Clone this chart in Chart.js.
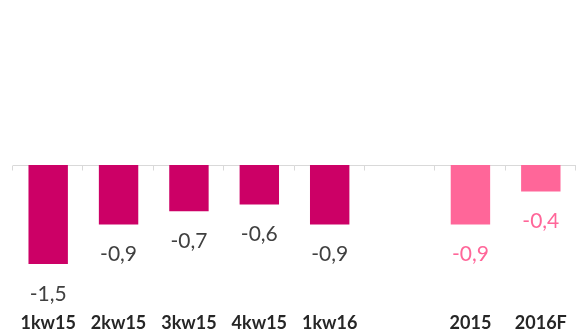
<!DOCTYPE html>
<html>
<head>
<meta charset="utf-8">
<script src="https://cdn.jsdelivr.net/npm/chart.js@4"></script>
<style>
  html, body { margin: 0; padding: 0; background: #fff; }
  #wrap { width: 576px; height: 333px; }
</style>
</head>
<body>
<div id="wrap"><canvas id="chart"></canvas></div>
<script>
// Chart data
const categories = ['1kw15', '2kw15', '3kw15', '4kw15', '1kw16', '', '2015', '2016F'];
const values = [-1.5, -0.9, -0.7, -0.6, -0.9, null, -0.9, -0.4];
const barColors = ['#CC0066', '#CC0066', '#CC0066', '#CC0066', '#CC0066', '#CC0066', '#FF6699', '#FF6699'];
const labelColors = ['#404040', '#404040', '#404040', '#404040', '#404040', '#404040', '#FF6699', '#FF6699'];

const FONT = 'Lato, "DejaVu Sans", sans-serif';

// zero line with tick marks between categories
const zeroAxisPlugin = {
    id: 'zeroAxis',
    beforeDatasetsDraw: (chart) => {
        const { ctx, chartArea, scales } = chart;
        const y0 = Math.round(scales.y.getPixelForValue(0)) + 0.5;
        const step = (chartArea.right - chartArea.left) / categories.length;
        ctx.save();
        ctx.strokeStyle = '#D9D9D9';
        ctx.lineWidth = 1;
        ctx.beginPath();
        ctx.moveTo(chartArea.left, y0);
        ctx.lineTo(chartArea.right, y0);
        for (let i = 0; i <= categories.length; i++) {
            const x = Math.round(chartArea.left + i * step) - 0.5;
            ctx.moveTo(x, y0);
            ctx.lineTo(x, y0 + 5);
        }
        ctx.stroke();
        ctx.restore();
    }
};

// value labels under each bar
const valueLabelPlugin = {
    id: 'valueLabels',
    afterDatasetsDraw: (chart) => {
        const { ctx } = chart;
        const meta = chart.getDatasetMeta(0);
        ctx.save();
        ctx.font = '21px ' + FONT;
        ctx.textAlign = 'center';
        ctx.textBaseline = 'middle';
        meta.data.forEach((bar, i) => {
            if (values[i] === null) return;
            ctx.fillStyle = labelColors[i];
            const text = values[i].toFixed(1).replace('.', ',');
            ctx.fillText(text, bar.x, bar.y + 30);
        });
        ctx.restore();
    }
};

new Chart(document.getElementById('chart'), {
    type: 'bar',
    data: {
        labels: categories,
        datasets: [{
            data: values,
            backgroundColor: barColors,
            categoryPercentage: 1,
            barPercentage: 0.56
        }]
    },
    options: {
        responsive: true,
        maintainAspectRatio: false,
        animation: false,
        layout: { padding: { left: 13, right: 0, top: 0, bottom: 0 } },
        plugins: {
            legend: { display: false },
            tooltip: { enabled: false }
        },
        scales: {
            x: {
                grid: { display: false },
                border: { display: false },
                ticks: {
                    color: '#262626',
                    font: { family: FONT, size: 18, weight: 'bold' },
                    padding: 7,
                    maxRotation: 0,
                    autoSkip: false
                },
                afterFit: (scale) => { scale.height = 36; }
            },
            y: {
                display: false,
                min: -2,
                max: 2.5
            }
        }
    },
    plugins: [zeroAxisPlugin, valueLabelPlugin]
});
</script>
</body>
</html>
